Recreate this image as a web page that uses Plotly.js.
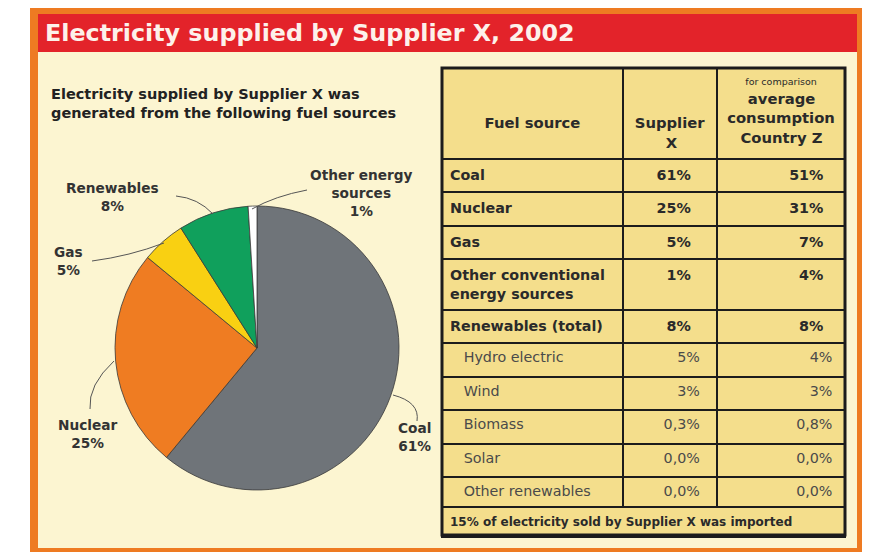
<!DOCTYPE html>
<html>
<head>
<meta charset="utf-8">
<script src="https://cdn.plot.ly/plotly-3.0.1.min.js"></script>
<style>html,body{margin:0;padding:0;background:#fff;}#chart{width:874px;height:552px;}</style>
</head>
<body>
<div id="chart"></div>
<script>
// ---- data ----
const chartTitle = "Electricity supplied by Supplier X, 2002";
const subTitle = ["Electricity supplied by Supplier X was", "generated from the following fuel sources"];

const pieLabels = ["Coal", "Nuclear", "Gas", "Renewables", "Other energy sources"];
const pieValues = [61, 25, 5, 8, 1];
const pieColors = ["#6f7479", "#ef7c22", "#f9d012", "#10a05c", "#ffffff"];
const pieLabelText = ["Coal<br>61%", "Nuclear<br>25%", "Gas<br>5%", "Renewables<br>8%", "Other energy<br>sources<br>1%"];

const headerFuel = "Fuel source";
const headerSupplier = ["Supplier", "X"];
const headerCountry = ["for comparison", "average", "consumption", "Country Z"];

const fuelSources = ["Coal", "Nuclear", "Gas", "Other conventional<br>energy sources", "Renewables (total)",
                     "Hydro electric", "Wind", "Biomass", "Solar", "Other renewables"];
const supplierX = ["61%", "25%", "5%", "1%", "8%", "5%", "3%", "0,3%", "0,0%", "0,0%"];
const countryZ = ["51%", "31%", "7%", "4%", "8%", "4%", "3%", "0,8%", "0,0%", "0,0%"];
const isSubRow = [false, false, false, false, false, true, true, true, true, true];
const footnote = "15% of electricity sold by Supplier X was imported";

// ---- helpers ----
const W = 874, H = 552;
const px = x => x / W;
const py = y => 1 - y / H;
const NB = n => "\u00a0".repeat(n);
const FONT = "DejaVu Sans, Verdana, sans-serif";

// table columns built from data
const col1 = fuelSources.map((t, i) => isSubRow[i] ? NB(3) + t : "<b>" + t + "</b>");
const col2 = supplierX.map((t, i) => isSubRow[i] ? t + NB(2) : "<b>" + t + "</b>" + NB(4));
const col3 = countryZ.map((t, i) => isSubRow[i] ? t + NB(1) : "<b>" + t + "</b>" + NB(3));
const rowColors = isSubRow.map(s => s ? "#4a4a4a" : "#2a2a2a");

// header lines (multi-line cells are left-aligned inside a centred block, so short lines get a lead-in)
const hdr1 = NB(1) + "<br>" + NB(1) + "<br><b>" + headerFuel + "</b>";
const hdr2 = NB(1) + "<br>" + NB(1) + "<br><b>" + headerSupplier[0] + "</b><br><b>" + NB(6) + headerSupplier[1] + "</b>";
const hdr3 = '<span style="font-size:9.5px">' + NB(6) + headerCountry[0] + "</span><br><b>" + NB(4) + headerCountry[1] +
             "</b><br><b>" + headerCountry[2] + "</b><br><b>" + NB(2) + "\u2009" + headerCountry[3] + "</b>";

const yellow = "#f4de8c";
const lineCol = "#1c1c1c";

const traces = [
  {
    type: "pie",
    labels: pieLabels,
    values: pieValues,
    sort: false,
    direction: "clockwise",
    rotation: 0,
    textinfo: "none",
    hoverinfo: "label+percent",
    marker: { colors: pieColors, line: { color: "#3a3a3a", width: 0.8 } },
    domain: { x: [px(115), px(399)], y: [py(490), py(206)] },
    showlegend: false
  },
  {
    type: "table",
    domain: { x: [px(442), px(845)], y: [py(522), py(68)] },
    columnwidth: [181, 94, 128],
    header: {
      values: [hdr1, hdr2, hdr3],
      align: ["center", "center", "center"],
      height: 89,
      fill: { color: yellow },
      line: { color: lineCol, width: 2 },
      font: { family: FONT, size: 14.8, color: "#2a2a2a" }
    },
    cells: {
      values: [col1, col2, col3],
      align: ["left", "right", "right"],
      height: 33.5,
      fill: { color: yellow },
      line: { color: lineCol, width: 2 },
      font: { family: FONT, size: 14.3, color: [rowColors, rowColors, rowColors] }
    }
  },
  {
    type: "table",
    domain: { x: [px(442), px(845)], y: [py(542), py(507)] },
    header: {
      values: ["<b>" + footnote + "</b>"],
      align: "left",
      height: 28,
      fill: { color: yellow },
      line: { color: lineCol, width: 2 },
      font: { family: FONT, size: 12, color: "#2a2a2a" }
    },
    cells: { values: [[]] }
  }
];

// label positions (page pixels) for pie annotations, in pie order
const labelPos = [[414, 437], [88, 434], [68, 261], [112, 197], [361, 193]];
const annotations = pieLabelText.map((t, i) => ({
  xref: "paper", yref: "paper",
  x: px(labelPos[i][0]), y: py(labelPos[i][1]),
  xanchor: "center", yanchor: "middle",
  text: "<b>" + t + "</b>", showarrow: false, align: "center",
  font: { family: FONT, size: 13.7, color: "#333" }
}));
annotations.push({
  xref: "paper", yref: "paper", x: px(43), y: py(33), xanchor: "left", yanchor: "middle",
  text: "<b>" + chartTitle + "</b>", showarrow: false,
  font: { family: FONT, size: 23.8, color: "#fdf1ea" }
});
annotations.push({
  xref: "paper", yref: "paper", x: px(49), y: py(103), xanchor: "left", yanchor: "middle",
  text: "<b>" + subTitle.join("<br>") + "</b>", showarrow: false, align: "left",
  font: { family: FONT, size: 14.5, color: "#222" }
});

// leader lines (paths in paper coords)
function pth(points) {
  const p = points.map(q => [px(q[0]), py(q[1])]);
  if (p.length === 2) return `M${p[0][0]},${p[0][1]} L${p[1][0]},${p[1][1]}`;
  return `M${p[0][0]},${p[0][1]} Q${p[1][0]},${p[1][1]} ${p[2][0]},${p[2][1]}`;
}
const leaders = [
  [[417, 421], [420, 402], [393, 395]],
  [[90, 409], [88, 385], [114, 361]],
  [[92, 261], [130, 256], [164, 243]],
  [[176, 196], [198, 198], [213, 214]],
  [[307, 190], [275, 196], [252, 209]]
];

const shapes = [
  { type: "rect", xref: "paper", yref: "paper", x0: px(30), x1: px(862), y0: py(552), y1: py(8), fillcolor: "#ee7b22", line: { width: 0 }, layer: "below" },
  { type: "rect", xref: "paper", yref: "paper", x0: px(38), x1: px(857), y0: py(548), y1: py(14), fillcolor: "#fcf5d1", line: { width: 0 }, layer: "below" },
  { type: "rect", xref: "paper", yref: "paper", x0: px(38), x1: px(857), y0: py(52), y1: py(14), fillcolor: "#e3232a", line: { width: 0 }, layer: "below" },
  // heavier outer frame of the table
  { type: "rect", xref: "paper", yref: "paper", x0: px(442), x1: px(845), y0: py(535), y1: py(68), fillcolor: "rgba(0,0,0,0)", line: { color: lineCol, width: 3 }, layer: "above" }
].concat(leaders.map(l => ({
  type: "path", xref: "paper", yref: "paper", path: pth(l), line: { color: "#555", width: 1 }, layer: "above"
})));

const layout = {
  width: W, height: H,
  margin: { l: 0, r: 0, t: 0, b: 0 },
  paper_bgcolor: "#ffffff",
  showlegend: false,
  shapes: shapes,
  annotations: annotations,
  font: { family: FONT }
};

Plotly.newPlot("chart", traces, layout, { displayModeBar: false, staticPlot: true });
</script>
</body>
</html>
